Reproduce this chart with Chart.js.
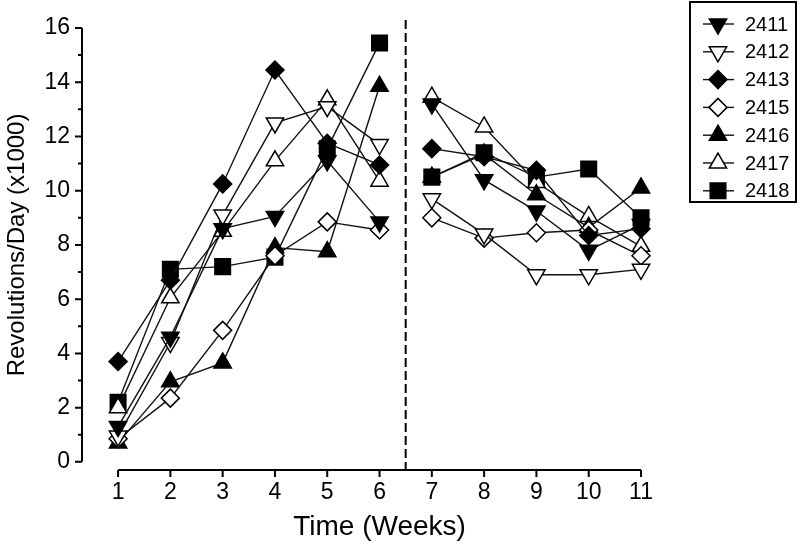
<!DOCTYPE html>
<html>
<head>
<meta charset="utf-8">
<script src="https://cdn.jsdelivr.net/npm/chart.js@4/dist/chart.umd.min.js"></script>
<style>
html, body { margin: 0; padding: 0; background: #fff; }
#wrap { width: 800px; height: 547px; }
</style>
</head>
<body>
<div id="wrap"><canvas id="chart" width="800" height="547"></canvas></div>
<script>
// data
var weeks = [1, 2, 3, 4, 5, 6, 7, 8, 9, 10, 11];
var yTickValues = [0, 1, 2, 3, 4, 5, 6, 7, 8, 9, 10, 11, 12, 13, 14, 15, 16];
var mice = ['2411', '2412', '2413', '2415', '2416', '2417', '2418'];

var s2411 = [1.3, 4.6, 8.6, 9.05, 11.1, 8.85, 13.2, 10.4, 9.25, 7.8, 8.75];
var s2412 = [0.95, 4.4, 9.1, 12.5, 13.1, 11.7, 9.7, 8.4, 6.9, 6.9, 7.1];
var s2413 = [3.7, 6.7, 10.25, 14.45, 11.75, 10.95, 11.55, 11.25, 10.75, 8.35, 8.6];
var s2415 = [0.85, 2.35, 4.85, 7.6, 8.85, 8.55, 9.0, 8.25, 8.45, 8.55, 7.6];
var s2416 = [0.7, 2.95, 3.65, 7.9, 7.75, 13.85, 10.5, 11.35, 9.85, 8.65, 10.1];
var s2417 = [2.0, 6.05, 8.5, 11.1, 13.35, 10.35, 13.45, 12.35, 10.3, 9.05, 7.95];
var s2418 = [2.2, 7.1, 7.2, 7.55, 11.55, 15.45, 10.5, 11.4, 10.5, 10.8, 9.0];
var seriesValues = [s2411, s2412, s2413, s2415, s2416, s2417, s2418];

var breakAt = 6.5; // dashed line between week 6 and 7

// marker look per mouse
var markers = [
    { style: 'triangle', rot: 180, fill: '#000', r: 10 },
    { style: 'triangle', rot: 180, fill: '#fff', r: 10 },
    { style: 'rectRot', rot: 0, fill: '#000', r: 9 },
    { style: 'rectRot', rot: 0, fill: '#fff', r: 9 },
    { style: 'triangle', rot: 0, fill: '#000', r: 10 },
    { style: 'triangle', rot: 0, fill: '#fff', r: 10 },
    { style: 'rect', rot: 0, fill: '#000', r: 11 }
];

var FONT = '"Liberation Sans", Arial, sans-serif';

var datasets = mice.map(function(name, i) {
    var m = markers[i];
    return {
        label: name,
        data: weeks.map(function(w, j) { return { x: w, y: seriesValues[i][j] }; }),
        borderColor: '#111',
        borderWidth: 1.4,
        pointStyle: m.style,
        rotation: m.rot,
        pointRadius: m.r,
        pointHoverRadius: m.r,
        pointBackgroundColor: m.fill,
        pointBorderColor: '#000',
        pointBorderWidth: 1.5,
        fill: false,
        tension: 0,
        clip: false,
        segment: {
            borderColor: function(ctx) {
                return (ctx.p0.parsed.x < breakAt && ctx.p1.parsed.x > breakAt) ? 'rgba(0,0,0,0)' : '#111';
            }
        }
    };
});

function markPoint(ctx, m, x, y) {
    ctx.save();
    ctx.fillStyle = m.fill;
    ctx.strokeStyle = '#000';
    ctx.lineWidth = 1.5;
    Chart.helpers.drawPoint(ctx, { pointStyle: m.style, rotation: m.rot, radius: m.r, borderWidth: 1.5 }, x, y);
    ctx.restore();
}

var axesPlugin = {
    id: 'axesPlugin',
    beforeDatasetsDraw: function(chart) {
        var ctx = chart.ctx;
        var xs = chart.scales.x, ys = chart.scales.y;
        var area = chart.chartArea;
        ctx.save();
        ctx.strokeStyle = '#000';
        ctx.lineWidth = 2;
        // y axis line and ticks
        var yx = area.left;
        ctx.beginPath();
        ctx.moveTo(yx, ys.getPixelForValue(0));
        ctx.lineTo(yx, ys.getPixelForValue(16));
        yTickValues.forEach(function(v) {
            var py = ys.getPixelForValue(v);
            ctx.moveTo(yx, py);
            ctx.lineTo(yx - (v % 2 === 0 ? 7 : 4), py);
        });
        // x axis line and ticks
        var by = area.bottom;
        ctx.moveTo(xs.getPixelForValue(weeks[0]), by);
        ctx.lineTo(xs.getPixelForValue(weeks[weeks.length - 1]), by);
        weeks.forEach(function(w) {
            var px = xs.getPixelForValue(w);
            ctx.moveTo(px, by);
            ctx.lineTo(px, by + 7);
        });
        ctx.stroke();
        // dashed break line
        var dx = xs.getPixelForValue(breakAt);
        ctx.setLineDash([9, 4]);
        ctx.beginPath();
        ctx.moveTo(dx, 20);
        ctx.lineTo(dx, by);
        ctx.stroke();
        ctx.setLineDash([]);
        // axis titles
        ctx.fillStyle = '#000';
        ctx.textAlign = 'center';
        ctx.textBaseline = 'middle';
        ctx.font = '28px ' + FONT;
        var midX = (xs.getPixelForValue(weeks[0]) + xs.getPixelForValue(weeks[weeks.length - 1])) / 2;
        ctx.fillText('Time (Weeks)', midX, 527);
        ctx.font = '24px ' + FONT;
        ctx.translate(17, (ys.getPixelForValue(0) + ys.getPixelForValue(16)) / 2);
        ctx.rotate(-Math.PI / 2);
        ctx.fillText('Revolutions/Day (x1000)', 0, 0);
        ctx.restore();
    },
    afterDraw: function(chart) {
        var ctx = chart.ctx;
        ctx.save();
        ctx.strokeStyle = '#000';
        ctx.lineWidth = 2;
        ctx.strokeRect(690, 2, 106, 200);
        ctx.font = '20px ' + FONT;
        ctx.fillStyle = '#000';
        ctx.textAlign = 'left';
        ctx.textBaseline = 'middle';
        mice.forEach(function(name, i) {
            var y = 24 + i * 27.8;
            ctx.strokeStyle = '#111';
            ctx.lineWidth = 1.4;
            ctx.beginPath();
            ctx.moveTo(703, y);
            ctx.lineTo(734, y);
            ctx.stroke();
            markPoint(ctx, markers[i], 718, y);
            ctx.fillStyle = '#000';
            ctx.fillText(name, 745, y + 1);
        });
        ctx.restore();
    }
};

new Chart(document.getElementById('chart'), {
    type: 'line',
    data: { datasets: datasets },
    plugins: [axesPlugin],
    options: {
        responsive: false,
        animation: false,
        events: [],
        layout: { autoPadding: false, padding: { left: 0, top: 28, right: 159, bottom: 0 } },
        plugins: { legend: { display: false }, tooltip: { enabled: false } },
        scales: {
            x: {
                type: 'linear',
                min: 0.31,
                max: 11,
                grid: { display: false, drawTicks: false },
                border: { display: false },
                afterBuildTicks: function(scale) {
                    scale.ticks = weeks.map(function(w) { return { value: w }; });
                },
                afterFit: function(scale) { scale.height = 77; },
                ticks: {
                    autoSkip: false,
                    maxRotation: 0,
                    padding: 9,
                    color: '#000',
                    font: { family: FONT, size: 23 }
                }
            },
            y: {
                min: -0.3,
                max: 16,
                grid: { display: false, drawTicks: false },
                border: { display: false },
                afterBuildTicks: function(scale) {
                    scale.ticks = yTickValues.map(function(v) { return { value: v }; });
                },
                afterFit: function(scale) { scale.width = 82; },
                ticks: {
                    autoSkip: false,
                    padding: 12,
                    color: '#000',
                    font: { family: FONT, size: 23 },
                    callback: function(v) { return v % 2 === 0 ? String(v) : ''; }
                }
            }
        }
    }
});
</script>
</body>
</html>
